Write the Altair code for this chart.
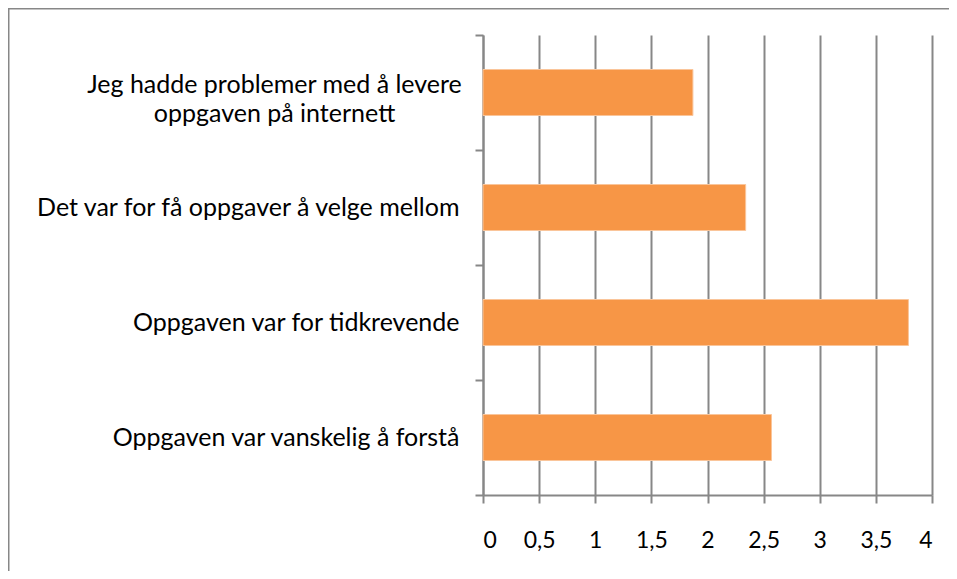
import altair as alt
import pandas as pd

categories = [
    "Jeg hadde problemer med å levere\noppgaven på internett",
    "Det var for få oppgaver å velge mellom",
    "Oppgaven var for tidkrevende",
    "Oppgaven var vanskelig å forstå",
]
values = [1.87, 2.34, 3.79, 2.57]
x_ticks = [0, 0.5, 1, 1.5, 2, 2.5, 3, 3.5, 4]

df = pd.DataFrame({"kategori": categories, "verdi": values})

GRAY = "#878787"
ORANGE = "#F79646"
FONT = "Lato"

# guarded test: wrapped (two-line) category label
is_multi = "isString(datum.value) && indexof(datum.value, '\\n') >= 0"

bars = alt.Chart(df).mark_bar(size=46, color=ORANGE, stroke="#FAC59A", strokeWidth=1).encode(
    y=alt.Y(
        "kategori:N",
        sort=categories,
        scale=alt.Scale(paddingInner=0, paddingOuter=0),
        axis=alt.Axis(
            title=None,
            tickBand="extent",
            ticks=True,
            tickSize=8,
            tickColor=GRAY,
            tickWidth=2,
            grid=False,
            domain=True,
            domainColor=GRAY,
            domainWidth=2,
            labelExpr="split(datum.label, '\\n')",
            labelFont=FONT,
            labelFontSize=25,
            labelColor="black",
            labelLineHeight=29,
            labelBaseline={"condition": {"test": is_multi, "value": "alphabetic"}, "value": "middle"},
            labelAlign={"condition": {"test": is_multi, "value": "center"}, "value": "right"},
            labelPadding={"condition": {"test": is_multi, "value": 201}, "value": 16},
            labelLimit=0,
        ),
    ),
    x=alt.X(
        "verdi:Q",
        scale=alt.Scale(domain=[0, 4], nice=False),
        axis=alt.Axis(
            title=None,
            orient="bottom",
            values=x_ticks,
            grid=True,
            gridColor=GRAY,
            gridWidth=2,
            domain=True,
            domainColor=GRAY,
            domainWidth=2,
            ticks=True,
            tickSize=8,
            tickColor=GRAY,
            tickWidth=2,
            labelExpr="replace(toString(datum.value), '.', ',')",
            labelFont=FONT,
            labelFontSize=23,
            labelColor="black",
            labelPadding=26,
        ),
    ),
)

frame = alt.Chart(pd.DataFrame({"f": [0]})).mark_rect(
    filled=False, stroke=GRAY, strokeWidth=2
).encode(
    x=alt.value(-474.5),
    x2=alt.value(480),
    y=alt.value(-26.5),
    y2=alt.value(600),
)

chart = alt.layer(frame, bars).properties(
    width=449,
    height=460,
    autosize=alt.AutoSizeParams(type="none"),
    padding={"left": 475, "top": 27, "right": 17, "bottom": 76},
).configure(background="white").configure_view(stroke=None)

chart.save("out.html", embed_options={"renderer": "svg", "actions": False})
